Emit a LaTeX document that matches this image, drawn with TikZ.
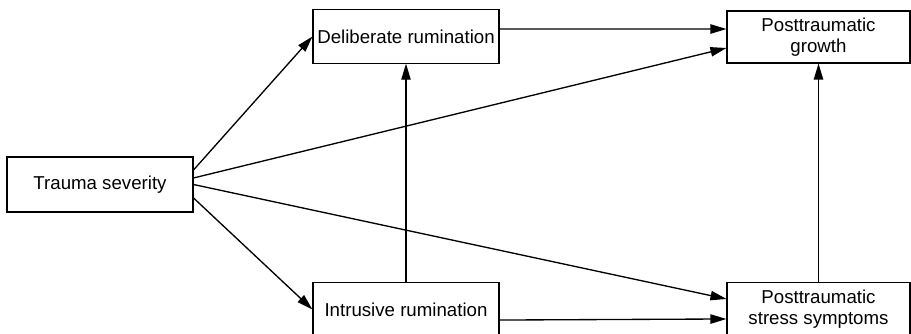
\documentclass[tikz,border=0pt]{standalone}
\usepackage{fontspec}
\setmainfont{Liberation Sans}
\usepackage{tikz}
\usetikzlibrary{arrows.meta}

\begin{document}
\begin{tikzpicture}[x=0.75pt,y=0.75pt,yscale=-1,xscale=1,
  varbox/.style={draw,line width=0.8pt,inner sep=0.75pt,align=center,
    font=\fontsize{14}{16}\selectfont,minimum width=139.5pt,minimum height=40pt},
  path/.style={line width=1pt,-{Triangle[length=12pt,width=7pt]}}]
\useasboundingbox (0,0) rectangle (911,333);

\node [varbox,minimum height=41.25pt] (ts) at (100,184.5) {Trauma severity};
\node [varbox] (dr) at (406,36.5) {Deliberate rumination};
\node [varbox] (ir) at (406,309.5) {Intrusive rumination};
\node [varbox,minimum width=137.25pt,minimum height=39pt] (ptg) at (818.5,37) {Posttraumatic\\growth};
\node [varbox,minimum width=137.25pt] (ptss) at (818.5,309.5) {Posttraumatic\\stress symptoms};

\draw [path] ([yshift=-10.9pt]ts.east) -- (dr.west);
\draw [path] ([yshift=10.1pt]ts.east) -- (ir.west);
\draw [path] ([yshift=-4.9pt]ts.east) -- ([yshift=8.25pt]ptg.west);
\draw [path] (ts.east) -- ([yshift=-7.9pt]ptss.west);

\draw [path] ([yshift=-5.6pt]dr.east) -- ([yshift=-6pt]ptg.west);
\draw [path] ([yshift=7.9pt]ir.east) -- ([yshift=7.1pt]ptss.west);

\draw [path] (ir.north) -- (dr.south);
\draw [path] (ptss.north) -- (ptg.south);

\end{tikzpicture}
\end{document}
